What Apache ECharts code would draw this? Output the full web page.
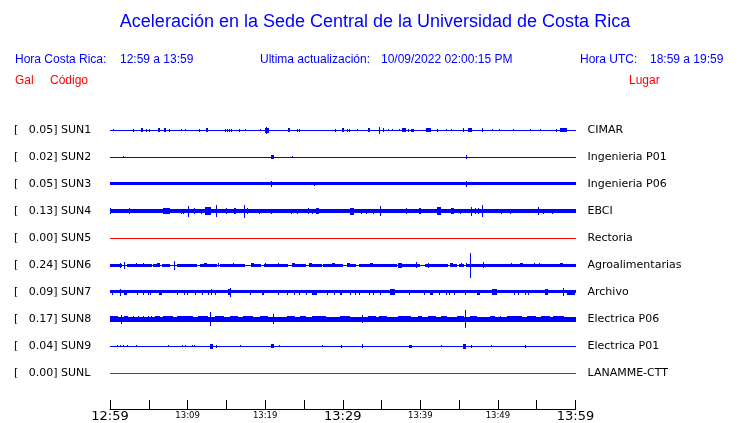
<!DOCTYPE html>
<html><head><meta charset="utf-8">
<script src="https://cdn.jsdelivr.net/npm/echarts@6/dist/echarts.min.js"></script>
<style>html,body{margin:0;padding:0;background:#fff}#c{width:740px;height:423px}</style>
</head><body><div id="c"></div><script>
// ---------------- data ----------------
const stationCodes = ['SUN1','SUN2','SUN3','SUN4','SUN5','SUN6','SUN7','SUN8','SUN9','SUNL'];
const peakGal = ['0.05','0.02','0.05','0.13','0.00','0.24','0.09','0.17','0.04','0.00'];
const places = ['CIMAR','Ingenieria P01','Ingenieria P06','EBCI','Rectoria','Agroalimentarias','Archivo','Electrica P06','Electrica P01','LANAMME-CTT'];
const stationState = ['ok','ok','ok','ok','off','ok','ok','ok','ok','off'];
// background noise half-amplitude of each trace (relative units)
const baseAmp = [0.5,0.5,1.6,2.2,0.5,0.5,1.6,2.3,0.5,0.5];
// events: [minute after 12:59, half amplitude, duration in minutes (optional)]
const sun1 = [[0.43,1],[3.0,1.5],[3.96,2,0.3],[4.64,1.5],[5.06,1.5],[6.15,2,0.3],[6.92,2,0.3],[7.64,1.5],[9.11,1],[9.7,1],
  [11.51,1.5],[12.33,2,0.25],[14.86,1.5],[15.08,1.5],[15.37,1.5],[15.63,1.5],[16.66,1.5],[17.44,1],[19.37,1],[20.0,2.5,0.45],[20.1,3.5],
  [22.9,2,0.35],[24.06,1.5],[24.39,1.5],[28.96,1.5],[29.9,2,0.25],[30.5,1.5],[30.84,1.5],[31.87,1],[33.2,2,0.3],[34.66,3.5],
  [35.22,2],[35.79,1],[36.38,1],[37.28,1],[37.7,2,0.5],[38.44,1.5],[38.8,1.5,0.4],[40.7,2,0.65],[42.1,1.5],[43.26,1],[43.98,1],
  [45.45,2,0.2],[46.1,2,0.5],[47.98,2],[49.26,1],[50.17,1],[51.97,1],[54.16,1],[55.45,1],[57.47,1.5],[58.0,2,0.85]];
const sun2 = [[1.7,1],[20.7,2,0.4],[23.4,1],[45.9,2]];
const sun3 = [[20.75,3],[26.3,2.2],[45.9,3]];
const sun4 = [[0.04,3],[2.49,3],[6.83,3,0.9],[9.11,2.5],[9.37,2.5],[10.01,5.5],[10.86,3],[11.69,2.5],[12.24,4,0.8],[13.7,6],
  [14.99,3],[15.94,3,0.3],[17.31,6.5],[17.69,3],[19.24,2.5],[20.79,2.5],[23.36,2.5],[24.06,2.5],[25.48,3],[26.07,2.5],[26.55,3,0.35],
  [30.93,3.5,0.5],[32.35,2.5],[32.99,2.5,0.2],[33.89,2.5],[34.75,5],[38.14,3],[39.82,3,0.26],[42.1,4,0.55],[43.9,3,0.43],[45.14,2.5],
  [46.48,4.5],[47.04,3],[47.46,3],[47.9,6],[50.39,2.5],[51.51,2.5],[55.12,4],[55.8,2.5],[56.96,2.5],[57.86,2.2]];
const sun5 = [];
const sun6 = [[0,1.5,1.5],[2.15,1.5,3.22],[5.58,1.5,0.86],[6.66,1.5,1.07],[8.6,1.5,2.58],[11.6,1.5,2.15],[14.18,1.5,3.22],
  [18.17,1.5,1.25],[19.88,1.5,3.1],[23.5,1.5,1.8],[25.68,1.5,1.64],[27.49,1.5,2.58],[30.5,1.5,1.2],[32.13,1.5,4.82],
  [37.15,1.5,2.8],[40.6,1.5,3.0],[43.81,1.5,0.86],[45.01,1.5,0.6],[45.88,1.5,14.12],
  [1.29,2.5],[1.8,3.5],[3.4,2],[4.3,2],[6.06,2.2,0.4],[8.29,4.5],[12.07,2.2,0.4],[13.96,2],[15.89,2],[18.17,2.2,0.4],[19.97,2],[21.65,2],
  [23.45,2.2,0.4],[25.64,2,0.4],[28.57,2.2,0.4],[30.5,2.2,0.4],[33.5,2.2,0.4],[37.15,2.5,0.5],[39.39,3],[41.0,2.5],[43.8,2,0.4],
  [45.23,2],[45.88,2.2],[46.43,12.5],[48.1,3],[51.7,2],[52.8,2,0.4],[54.64,2],[55.28,2],[58.0,2,0.4]];
const sun7 = [[0.22,2.5],[1.29,3.5],[1.8,2.5,0.4],[3.52,2.5],[4.21,2.5],[4.86,2.5],[5.19,2.5],[6.31,2.5,0.4],[8.63,2.5],[9.57,2.5],
  [9.88,2.5],[10.95,2.5],[11.89,2.5],[12.63,2.5],[12.98,3],[13.53,2.5],[15.2,3,0.4],[15.42,4.5],[18.08,2.5],[19.59,2.5,0.3],
  [21.65,2.5],[22.85,2.5],[23.67,2.5],[24.32,2.5],[25.3,2.5],[26.07,2.5,0.65],[27.92,2.5],[28.87,2.5],[29.6,2.5,0.3],[29.77,2.5],
  [30.93,2.5],[31.57,2.5],[32.09,2.5],[33.41,2.5],[33.93,2.5],[34.79,2.5],[36.08,3,0.65],[38.57,2.5],[40.43,2.5],[41.24,2.5,0.4],
  [42.4,2.5],[43.26,2.5],[43.69,2.5],[44.29,2.5],[45.79,2.5],[47.25,2.5,0.45],[49.19,3,0.65],[52.06,2.5],[52.62,2.5],[53.48,2.5],
  [53.9,2.5],[56.06,3,0.45],[58.41,4],[58.85,2.5,1.1]];
const sun8 = [[0,3,1.07],[1.38,4.5],[1.8,3,0.55],[3.0,2.8],[3.6,2.8],[4.3,2.8],[4.9,2.8],[5.3,2.8],[5.8,2.8,0.65],[6.83,3,1.33],
  [8.7,2.8,2],[11.34,3,1.3],[12.93,7],[13.5,2.8,1.2],[15.5,2.8,1],[17.2,2.8,1.2],[19.37,2.8,1],[20.97,5],[22.8,2.8,1],[24.5,2.8,0.8],
  [26.0,2.8,1.8],[29.6,2.8,1.3],[32.43,4],[33.3,2.8,1],[34.7,2.8,1],[37.15,2.8,1.7],[39.74,2.8,0.45],[41.0,2.8,1],[42.6,2.8,0.8],
  [44.7,3,0.95],[45.79,9],[46.4,3,0.85],[48.98,2.8,0.65],[50.26,2.8],[51.14,2.8,1.9],[53.7,2.8,1.2],[55.5,2.8,1.2],[57.1,2.8,1.4]];
const sun9 = [[0.86,1],[1.29,1],[1.72,1],[2.15,1],[3.31,1],[7.44,1],[9.24,1],[9.63,1],[10.61,1],[10.87,1],[12.93,2.5,0.3],
  [13.66,1.5],[16.79,1],[20.7,2,0.45],[21.8,1],[27.37,1],[29.82,1.5],[32.43,2],[38.57,1.5,0.4],[42.7,1],[45.5,2.5,0.45],
  [46.48,1.5],[49.06,1],[53.48,1.5]];
const sunL = [];
const stationEvents = [sun1,sun2,sun3,sun4,sun5,sun6,sun7,sun8,sun9,sunL];
const xTickLabels = ['12:59','','13:09','','13:19','','13:29','','13:39','','13:49','','13:59'];
const majorTickLabels = ['12:59','13:29','13:59'];

// ---------------- layout / style ----------------
const ROW = 27;
const BLUE = '#0000ff', RED = '#ff0000';
const SPAN = 60;
const chart = echarts.init(document.getElementById('c'), null, {renderer:'canvas'});

function renderItem(params, api) {
  const row = api.value(0), t0 = api.value(1), amp = api.value(2), dur = api.value(3);
  const cy = ROW * row + ROW / 2;
  const a = api.coord([t0, cy - amp]);
  const b = api.coord([t0 + dur, cy + amp]);
  const x = Math.round(a[0]);
  const w = Math.max(1, Math.round(b[0]) - x);
  const y0 = Math.min(a[1], b[1]), y1 = Math.max(a[1], b[1]);
  const y = Math.round(y0);
  const h = Math.max(1, Math.round(y1 - y0));
  return {type:'rect', shape:{x:x, y:y, width:w, height:h}, style:{fill: api.visual('color')}};
}

const series = stationCodes.map((code, i) => {
  const items = [[i, 0, baseAmp[i], SPAN]].concat(
    stationEvents[i].map(e => [i, e[0], e[1], e.length > 2 ? e[2] : 0.13]));
  return {
    type:'custom', name: code, renderItem: renderItem, clip: true,
    xAxisIndex:0, yAxisIndex:0,
    itemStyle:{color: stationState[i] === 'off' ? RED : BLUE},
    data: items, silent: true, animation:false
  };
});

const leftLabels = stationCodes.map((c, i) => '[   ' + peakGal[i] + '] ' + c);
const FONT = 'DejaVu Sans';
const HFONT = 'Liberation Sans, Arial, sans-serif';

function txt(x, y, s, color, size, align) {
  return {type:'text', x:x, y:y, style:{text:s, fill:color, font: size + 'px ' + HFONT,
    textAlign: align || 'left', textVerticalAlign:'middle'}};
}

chart.setOption({
  animation:false,
  backgroundColor:'#fff',
  grid:{left:110, top:116.5, width:465.5, height:270, containLabel:false, outerBoundsMode:'none'},
  xAxis:{type:'value', min:0, max:SPAN, interval:5, offset:22.5, position:'bottom',
    axisLine:{show:true, onZero:false, lineStyle:{color:'#000', width:1}},
    axisTick:{show:true, inside:true, length:9, lineStyle:{color:'#000', width:1}},
    splitLine:{show:false},
    axisLabel:{margin:1, showMinLabel:true, showMaxLabel:true,
      formatter: function (v) {
        const l = xTickLabels[Math.round(v / 5)] || '';
        if (!l) return '';
        return majorTickLabels.indexOf(l) >= 0 ? '{big|' + l + '}' : '{small|' + l + '}';
      },
      rich:{
        big:{fontFamily:FONT, fontSize:13, lineHeight:14, color:'#000'},
        small:{fontFamily:FONT, fontSize:8.5, lineHeight:11, color:'#000'}
      }}
  },
  yAxis:[
    {type:'value', min:0, max:ROW*stationCodes.length, inverse:true, show:false},
    {type:'category', data:leftLabels, inverse:true, position:'left',
      axisLine:{show:false}, axisTick:{show:false}, splitLine:{show:false},
      axisLabel:{align:'left', margin:96, fontFamily:FONT, fontSize:11, color:'#000'}},
    {type:'category', data:places, inverse:true, position:'right',
      axisLine:{show:false}, axisTick:{show:false}, splitLine:{show:false},
      axisLabel:{align:'left', margin:12, fontFamily:FONT, fontSize:11, color:'#000'}}
  ],
  graphic:[
    txt(375, 22, 'Aceleración en la Sede Central de la Universidad de Costa Rica', BLUE, 18, 'center'),
    txt(15, 60, 'Hora Costa Rica:', BLUE, 12),
    txt(120, 60, '12:59 a 13:59', BLUE, 12),
    txt(260, 60, 'Ultima actualización:', BLUE, 12),
    txt(381, 60, '10/09/2022 02:00:15 PM', BLUE, 12),
    txt(580, 60, 'Hora UTC:', BLUE, 12),
    txt(650, 60, '18:59 a 19:59', BLUE, 12),
    txt(15, 81, 'Gal', RED, 12),
    txt(50, 81, 'Código', RED, 12),
    txt(629, 81, 'Lugar', RED, 12)
  ],
  series: series
});
</script></body></html>
